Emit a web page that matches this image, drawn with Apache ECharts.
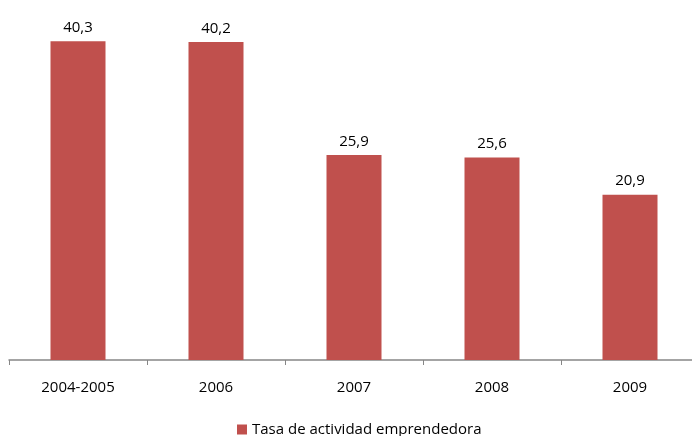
<!DOCTYPE html>
<html><head><meta charset="utf-8">
<script src="https://cdn.jsdelivr.net/npm/echarts@6/dist/echarts.min.js"></script>
<style>html,body{margin:0;padding:0;background:#fff;overflow:hidden;width:692px;height:436px}#c{width:699px;height:436px}</style>
</head><body><div id="c"></div>
<script>
const categories = ['2004-2005', '2006', '2007', '2008', '2009'];
const values = [40.3, 40.2, 25.9, 25.6, 20.9];
const seriesName = 'Tasa de actividad emprendedora';

const chart = echarts.init(document.getElementById('c'));
const font = '"Open Sans", "Noto Sans", sans-serif';
chart.setOption({
  animation: false,
  textStyle: { fontFamily: font },
  grid: { left: 9, top: 4, right: 0, bottom: 76, containLabel: false },
  legend: {
    data: [seriesName], top: 422, left: 237,
    itemWidth: 10, itemHeight: 10, icon: 'rect', itemGap: 5, padding: 0,
    textStyle: { fontFamily: font, fontSize: 15, color: '#000' }
  },
  xAxis: {
    type: 'category', data: categories,
    axisLine: { lineStyle: { color: '#868686', width: 1.5 } },
    axisTick: { show: true, length: 5, lineStyle: { color: '#868686' } },
    axisLabel: { color: '#000', fontSize: 15, fontFamily: font, margin: 20 }
  },
  yAxis: { type: 'value', min: 0, max: 45, show: false, splitLine: { show: false } },
  series: [{
    name: seriesName, type: 'bar', data: values, barWidth: 55,
    itemStyle: { color: '#C0504D' },
    label: {
      show: true, position: 'top', distance: 6, color: '#000', fontSize: 15, fontFamily: font,
      formatter: p => p.value.toFixed(1).replace('.', ',')
    }
  }]
});
</script></body></html>
